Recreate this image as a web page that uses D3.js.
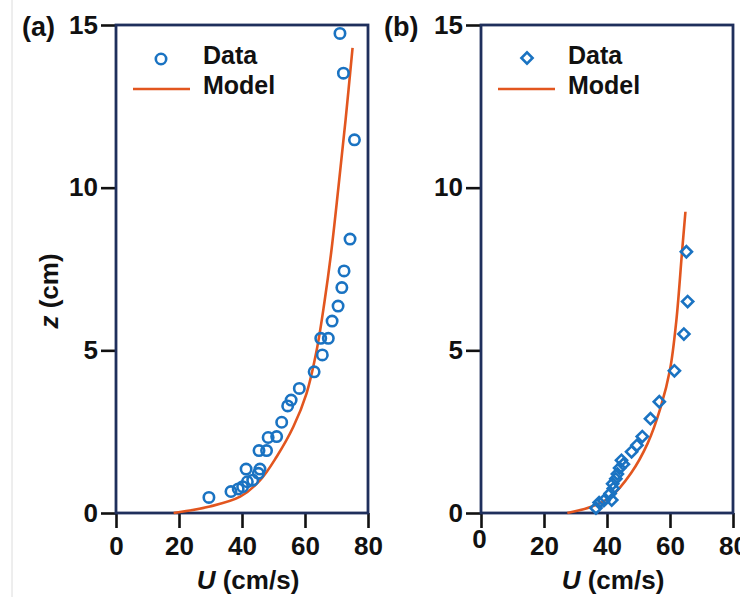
<!DOCTYPE html>
<html>
<head>
<meta charset="utf-8">
<script src="https://cdn.jsdelivr.net/npm/d3@7"></script>
<style>
  body { margin: 0; background: #fff; }
  svg { display: block; font-family: Arial, "Liberation Sans", sans-serif; }
  .tick text { font-weight: bold; font-size: 26px; fill: #111; }
  .tick line { stroke: #111; stroke-width: 2.6; }
</style>
</head>
<body>
<svg width="740" height="597"></svg>
<script>
// panel (a): measured profile and model
const dataA = [
  [29.5, 0.48], [36.5, 0.66], [38.8, 0.74], [40.2, 0.81], [41.7, 0.96],
  [41.3, 1.35], [43.4, 1.01], [45.2, 1.22], [45.7, 1.35], [45.4, 1.92],
  [47.8, 1.92], [48.3, 2.32], [51.0, 2.35], [52.6, 2.79], [54.5, 3.29],
  [55.6, 3.47], [58.2, 3.83], [62.9, 4.34], [65.5, 4.86], [65.0, 5.37],
  [67.4, 5.37], [68.6, 5.9], [70.5, 6.36], [71.7, 6.93], [72.4, 7.44],
  [74.3, 8.42], [75.7, 11.47], [72.2, 13.52], [71.1, 14.74]
]
const modelA = [
  [18.3, 0.0], [29.8, 0.2], [39.4, 0.5], [45.7, 1.0], [51.0, 1.73],
  [56.3, 2.65], [60.5, 3.68], [63.7, 5.0], [66.2, 6.5], [68.3, 8.0],
  [70.6, 10.0], [72.9, 12.1], [75.1, 14.3]
]

// panel (b)
const dataB = [
  [36.5, 0.15], [37.5, 0.32], [39.0, 0.38], [41.5, 0.4], [41.0, 0.6],
  [42.0, 0.75], [41.8, 0.9], [42.8, 1.05], [43.3, 1.2], [44.0, 1.38],
  [44.6, 1.62], [45.2, 1.5], [47.8, 1.88], [49.5, 2.08], [51.2, 2.35],
  [53.8, 2.9], [56.6, 3.42], [61.4, 4.37], [64.4, 5.5], [65.6, 6.5],
  [65.2, 8.03]
]
const modelB = [
  [27.4, 0.0], [35.0, 0.19], [41.2, 0.5], [47.6, 1.22], [52.9, 2.14],
  [57.1, 3.27], [60.0, 4.4], [62.0, 5.9], [63.8, 8.0], [64.9, 9.26]
]

const xTicks = [0, 20, 40, 60, 80]
const yTicks = [0, 5, 10, 15]

const BLUE = '#1a73c2'
const ORANGE = '#e2561f'
const FRAME = '#1f2f5c'
const FONT = 26

const svg = d3.select('svg')

// faint scan edge on the far left
svg.append('line')
  .attr('x1', 12).attr('x2', 12).attr('y1', 0).attr('y2', 597)
  .attr('stroke', '#dcdcdc').attr('stroke-width', 1)

function drawPanel(opts) {
  const x = d3.scaleLinear().domain([0, 80]).range([opts.left, opts.right])
  const y = d3.scaleLinear().domain([0, 15]).range([513, 25])
  const g = svg.append('g')

  // x axis
  const xAxis = g.append('g')
    .attr('transform', `translate(0, ${y(0)})`)
    .call(d3.axisBottom(x).tickValues(xTicks).tickSize(15).tickPadding(9))
  xAxis.select('.domain').remove()
  if (opts.shiftZero) {
    xAxis.selectAll('.tick').filter((d) => d === 0).select('text')
      .attr('dx', -2).attr('y', 17)
  }

  // y axis
  const yAxis = g.append('g')
    .attr('transform', `translate(${x(0)}, 0)`)
    .call(d3.axisLeft(y).tickValues(yTicks).tickSize(15).tickPadding(3))
  yAxis.select('.domain').remove()

  // frame
  g.append('rect')
    .attr('x', x(0)).attr('y', y(15))
    .attr('width', x(80) - x(0)).attr('height', y(0) - y(15))
    .attr('fill', 'none')
    .attr('stroke', FRAME).attr('stroke-width', 2.8)

  // model curve
  const line = d3.line()
    .x((d) => x(d[0]))
    .y((d) => y(d[1]))
    .curve(d3.curveCatmullRom)
  g.append('path')
    .datum(opts.model)
    .attr('d', line)
    .attr('fill', 'none')
    .attr('stroke', ORANGE)
    .attr('stroke-width', 2.6)

  // data markers
  const diamond = d3.symbol(d3.symbolSquare, 62)
  g.selectAll('.pt')
    .data(opts.data)
    .enter()
    .append(opts.shape === 'circle' ? 'circle' : 'path')
    .attr('class', 'pt')
    .each(function(d) {
      const el = d3.select(this)
      if (opts.shape === 'circle') {
        el.attr('cx', x(d[0])).attr('cy', y(d[1])).attr('r', 5.2)
      } else {
        el.attr('d', diamond())
          .attr('transform', `translate(${x(d[0])}, ${y(d[1])}) rotate(45)`)
      }
    })
    .attr('fill', 'none')
    .attr('stroke', BLUE)
    .attr('stroke-width', 2.6)

  // legend
  const lg = g.append('g')
  const lx = x(0) + 17
  if (opts.shape === 'circle') {
    lg.append('circle').attr('cx', lx + 28).attr('cy', 59).attr('r', 5.2)
      .attr('fill', 'none').attr('stroke', BLUE).attr('stroke-width', 2.6)
  } else {
    lg.append('path').attr('d', diamond())
      .attr('transform', `translate(${lx + 29}, 58) rotate(45)`)
      .attr('fill', 'none').attr('stroke', BLUE).attr('stroke-width', 2.6)
  }
  lg.append('line')
    .attr('x1', lx).attr('x2', lx + 57).attr('y1', 89).attr('y2', 89)
    .attr('stroke', ORANGE).attr('stroke-width', 2.6)
  lg.append('text').attr('x', lx + 70).attr('y', 64).text('Data')
    .attr('font-weight', 'bold').attr('font-size', 25).attr('fill', '#111')
  lg.append('text').attr('x', lx + 70).attr('y', 94).text('Model')
    .attr('font-weight', 'bold').attr('font-size', 25).attr('fill', '#111')

  // panel tag
  g.append('text')
    .attr('x', opts.tagX).attr('y', 36)
    .attr('font-weight', 'bold').attr('font-size', 27).attr('fill', '#111')
    .text(opts.tag)

  // x title
  const xt = g.append('text')
    .attr('x', (x(0) + x(80)) / 2 + 6).attr('y', 589)
    .attr('text-anchor', 'middle')
    .attr('font-weight', 'bold').attr('font-size', FONT).attr('fill', '#111')
  xt.append('tspan').attr('font-style', 'italic').text('U')
  xt.append('tspan').text(' (cm/s)')
}

drawPanel({ left: 116, right: 368, data: dataA, model: modelA, shape: 'circle', tag: '(a)', tagX: 22 })
drawPanel({ left: 481, right: 733, data: dataB, model: modelB, shape: 'diamond', tag: '(b)', tagX: 384, shiftZero: true })

// y title (panel a only)
const yt = svg.append('text')
  .attr('transform', 'translate(58, 291) rotate(-90)')
  .attr('text-anchor', 'middle')
  .attr('font-weight', 'bold').attr('font-size', FONT).attr('fill', '#111')
yt.append('tspan').attr('font-style', 'italic').text('z')
yt.append('tspan').text(' (cm)')
</script>
</body>
</html>
